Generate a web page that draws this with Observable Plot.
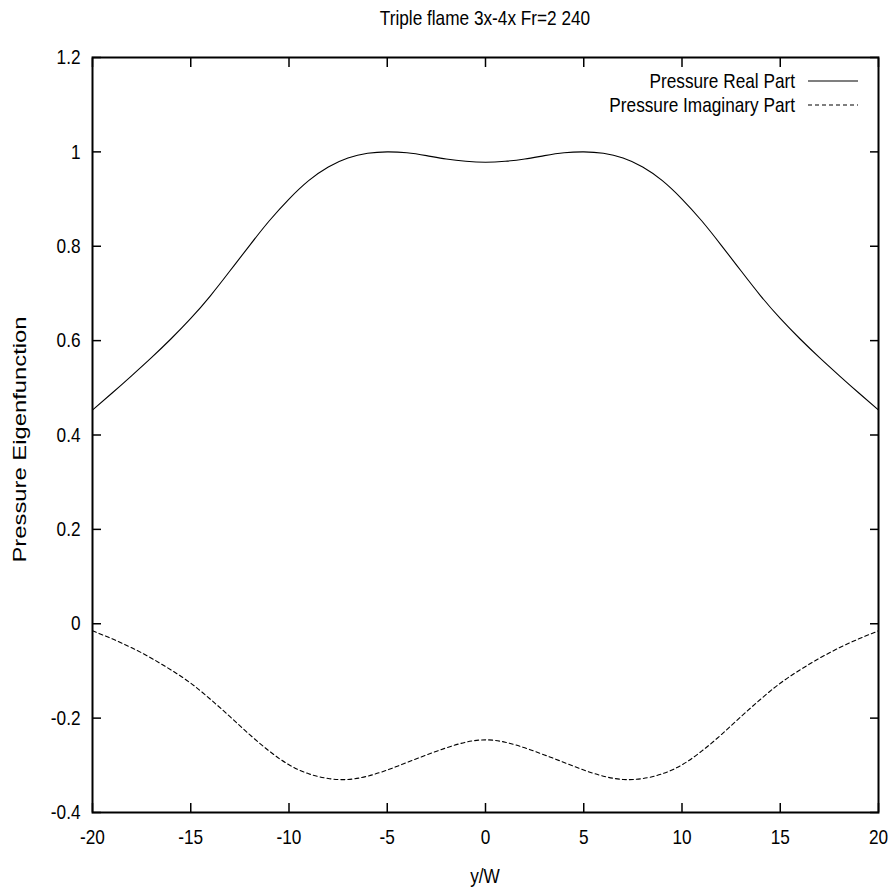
<!DOCTYPE html>
<html><head><meta charset="utf-8">
<script src="https://cdn.jsdelivr.net/npm/d3@7"></script>
<script src="https://cdn.jsdelivr.net/npm/@observablehq/plot@0.6"></script>
<style>
body{margin:0;background:#fff;}
#chart{position:relative;width:894px;height:894px;}
</style></head><body><div id="chart"></div>
<script>
const titleText = "Triple flame 3x-4x Fr=2 240";
const xLabel = "y/W";
const yLabel = "Pressure Eigenfunction";
const seriesNames = ["Pressure Real Part", "Pressure Imaginary Part"];
const xTicks = [-20, -15, -10, -5, 0, 5, 10, 15, 20];
const yTicks = [-0.4, -0.2, 0, 0.2, 0.4, 0.6, 0.8, 1, 1.2];

const yW = [-20,-19,-18,-17,-16,-15,-14,-13,-12,-11,-10,-9,-8,-7,-6,-5,-4,-3,-2,-1,0,
            1,2,3,4,5,6,7,8,9,10,11,12,13,14,15,16,17,18,19,20];
const realPart = [0.453,0.489,0.526,0.564,0.604,0.647,0.695,0.748,0.802,0.854,0.900,0.939,0.968,0.987,0.997,1.000,0.998,0.992,0.985,0.980,0.978,
                  0.980,0.985,0.992,0.998,1.000,0.997,0.987,0.968,0.939,0.900,0.854,0.802,0.748,0.695,0.647,0.604,0.564,0.526,0.489,0.453];
const imagPart = [-0.015,-0.032,-0.051,-0.073,-0.098,-0.126,-0.160,-0.197,-0.235,-0.270,-0.299,-0.318,-0.328,-0.330,-0.323,-0.310,-0.294,-0.278,-0.263,-0.251,-0.246,
                  -0.251,-0.263,-0.278,-0.294,-0.310,-0.323,-0.330,-0.328,-0.318,-0.299,-0.270,-0.235,-0.197,-0.160,-0.126,-0.098,-0.073,-0.051,-0.032,-0.015];

const narrow = "'Liberation Sans Narrow', 'Arial Narrow', 'Liberation Sans', sans-serif";
const fmt = d => String(+d.toFixed(1));

const realData = yW.map((x, i) => ({x, v: realPart[i]}));
const imagData = yW.map((x, i) => ({x, v: imagPart[i]}));

const chart = Plot.plot({
  width: 894, height: 894,
  marginTop: 57, marginRight: 16, marginBottom: 82, marginLeft: 92,
  style: {fontFamily: narrow, fontSize: "21px", color: "#000", background: "#fff"},
  x: {domain: [-20, 20]},
  y: {domain: [-0.4, 1.2]},
  marks: [
    Plot.axisX(xTicks, {anchor: "bottom", tickSize: 0, tickPadding: 17, tickFormat: fmt, label: null, fontSize: 21, fontFamily: narrow}),
    Plot.axisY(yTicks, {anchor: "left", tickSize: 0, tickPadding: 12, tickFormat: fmt, label: null, fontSize: 21, fontFamily: narrow}),
    Plot.axisX(xTicks, {anchor: "bottom", tickSize: -9, text: null, label: null, strokeWidth: 1.5}),
    Plot.axisX(xTicks, {anchor: "top", tickSize: -9, text: null, label: null, strokeWidth: 1.5}),
    Plot.axisY(yTicks, {anchor: "left", tickSize: -9, text: null, label: null, strokeWidth: 1.5}),
    Plot.axisY(yTicks, {anchor: "right", tickSize: -9, text: null, label: null, strokeWidth: 1.5}),
    Plot.line(realData, {x: "x", y: "v", stroke: "#000", strokeWidth: 1.1, curve: "natural"}),
    Plot.line(imagData, {x: "x", y: "v", stroke: "#000", strokeWidth: 1.1, strokeDasharray: "4,3", curve: "natural"}),
    Plot.frame({stroke: "#000", strokeWidth: 2})
  ]
});
document.getElementById("chart").appendChild(chart);

const svg = d3.select(chart);
const xs = chart.scale("x"), ys = chart.scale("y");
const frameLeft = xs.range[0], frameRight = xs.range[1], frameTop = ys.range[1], frameBottom = ys.range[0];
const cx = (frameLeft + frameRight) / 2, cy = (frameTop + frameBottom) / 2;

svg.append("text").attr("x", cx).attr("y", 25).attr("text-anchor", "middle")
  .attr("font-family", narrow).attr("font-size", 21).attr("fill", "#000").text(titleText);
svg.append("text").attr("x", cx).attr("y", 883).attr("text-anchor", "middle")
  .attr("font-family", narrow).attr("font-size", 21).attr("fill", "#000").text(xLabel);

const legendDash = [null, "4,3"];
seriesNames.forEach((name, i) => {
  const base = 88 + 24 * i;
  svg.append("text").attr("x", 795).attr("y", base).attr("text-anchor", "end")
    .attr("font-family", narrow).attr("font-size", 21).attr("fill", "#000").text(name);
  svg.append("line").attr("x1", 808).attr("x2", 858).attr("y1", base - 7).attr("y2", base - 7)
    .attr("stroke", "#000").attr("stroke-width", 1.1).attr("stroke-dasharray", legendDash[i]);
});

// condense all narrow-font texts horizontally (Arial Narrow look)
svg.selectAll("text").each(function() {
  const len = this.getComputedTextLength();
  if (len > 0) {
    this.setAttribute("textLength", (len * 0.82).toFixed(2));
    this.setAttribute("lengthAdjust", "spacingAndGlyphs");
  }
});

svg.append("text").attr("transform", `translate(26,${cy + 5}) rotate(-90)`).attr("text-anchor", "middle")
  .attr("font-family", "'Liberation Sans', Arial, sans-serif").attr("font-size", 19)
  .attr("textLength", 246).attr("lengthAdjust", "spacingAndGlyphs").attr("fill", "#000").text(yLabel);
</script></body></html>
